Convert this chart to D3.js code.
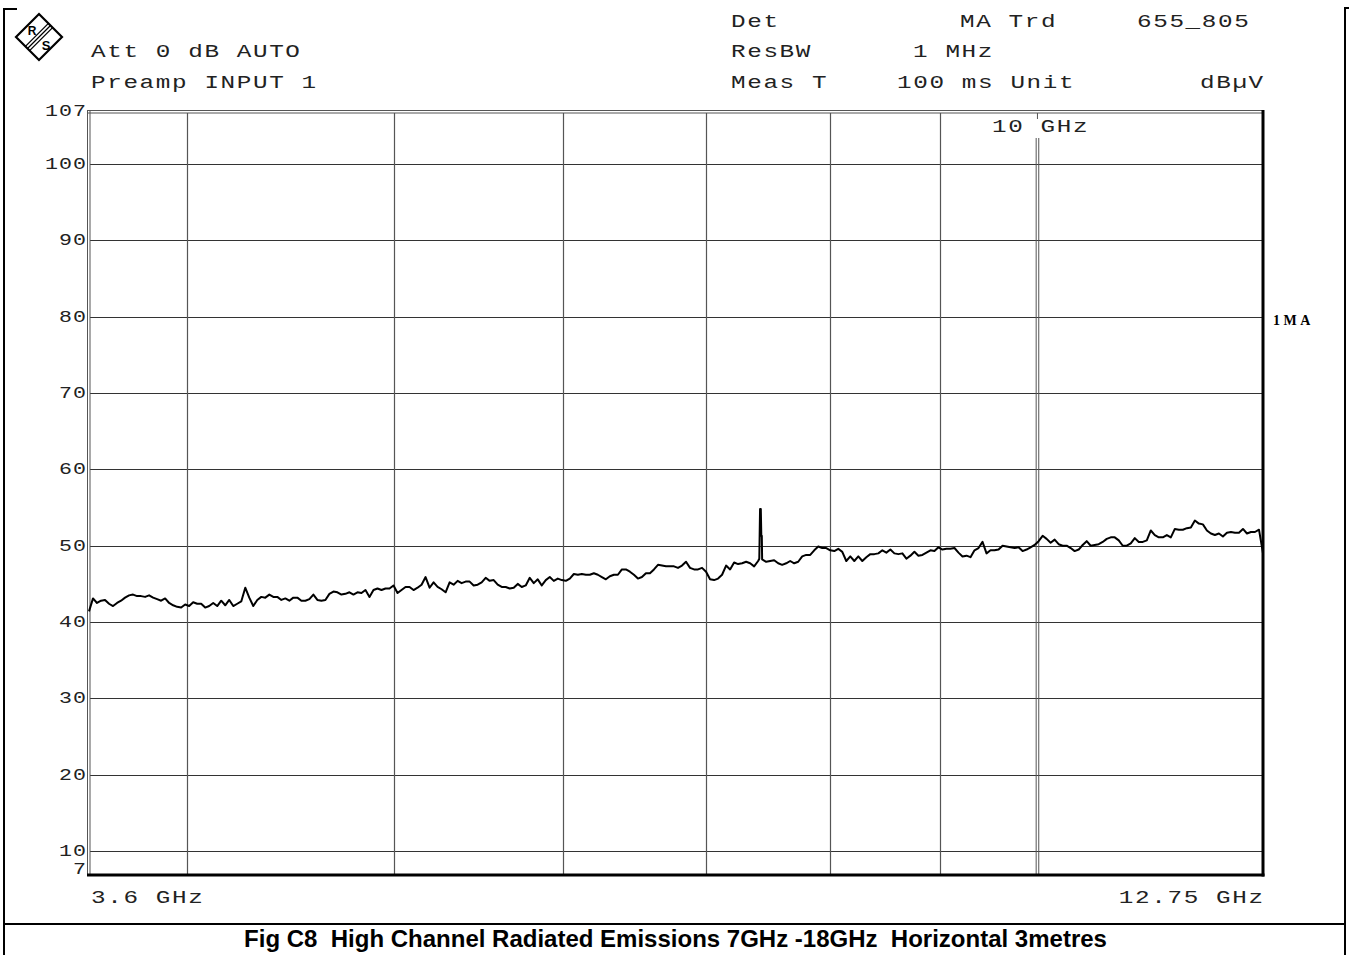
<!DOCTYPE html>
<html><head><meta charset="utf-8">
<script src="https://cdn.jsdelivr.net/npm/d3@7"></script>
<style>
html,body{margin:0;padding:0;background:#fff;}
svg{display:block;}
.mono{font-family:"Liberation Mono","Courier New",monospace;fill:#222;white-space:pre;}
</style></head>
<body>
<svg id="chart" width="1349" height="955"></svg>
<script>
// ---------- data ----------
const startGHz = 3.6, stopGHz = 12.75;
const yMin = 7, yMax = 107;
const yTickValues = [107, 100, 90, 80, 70, 60, 50, 40, 30, 20, 10, 7];
const hGridValues = [100, 90, 80, 70, 60, 50, 40, 30, 20, 10];
const vGridGHz = [4, 5, 6, 7, 8, 9];
const markerGHz = 10;
const markerLabel = "10 GHz";
const xStartLabel = "3.6 GHz", xStopLabel = "12.75 GHz";
const headerLeft = [["Att 0 dB AUTO", 91, 57], ["Preamp INPUT 1", 91, 88]];
const headerRight = [["Det", 731, 27], ["MA Trd", 960, 27], ["655_805", 1137, 27],
  ["ResBW", 731, 57], ["1 MHz", 913, 57],
  ["Meas T", 731, 88], ["100 ms Unit", 897, 88], ["dB\u00B5V", 1200, 88]];
const traceTag = "1MA";
const caption = "Fig C8  High Channel Radiated Emissions 7GHz -18GHz  Horizontal 3metres";

// trace levels (dBµV), sweep points log-spaced from start to stop
const traceLevels = [
41.4,43.1,42.5,42.8,42.9,42.4,42.1,42.5,42.8,43.2,
43.5,43.6,43.4,43.4,43.3,43.5,43.2,43.0,42.8,43.1,
42.5,42.2,42.0,41.9,42.3,42.1,42.6,42.4,42.4,41.9,
42.1,42.5,42.1,42.8,42.2,42.9,42.1,42.4,42.7,44.5,
43.2,42.1,42.9,43.3,43.2,43.6,43.3,43.3,42.9,43.1,
42.8,43.2,43.2,42.8,42.8,43.0,43.6,42.9,42.8,42.9,
43.7,44.0,43.9,43.6,43.7,43.9,43.6,43.9,43.8,44.2,
43.3,44.2,44.4,44.2,44.4,44.4,44.8,43.8,44.2,44.6,
44.6,44.2,44.5,44.9,45.9,44.5,45.2,44.6,44.3,43.9,
45.2,44.9,45.4,45.1,45.3,45.3,44.8,44.9,45.2,45.8,
45.4,45.5,44.9,44.6,44.6,44.4,44.5,45.0,44.6,44.8,
45.8,45.1,45.6,44.8,45.5,45.9,45.4,45.7,45.5,45.4,
45.7,46.3,46.2,46.3,46.2,46.2,46.4,46.2,45.9,45.6,
46.0,46.2,46.2,46.9,46.9,46.6,46.2,45.7,45.9,46.4,
46.4,46.9,47.5,47.4,47.3,47.3,47.3,47.1,47.4,47.9,
47.1,46.9,46.9,47.1,46.6,45.6,45.5,45.7,46.2,47.4,
46.9,47.8,47.6,47.7,47.9,47.7,47.3,48.0,48.2,47.9,
48.0,48.1,47.7,47.5,47.7,48.0,47.7,47.9,48.6,48.8,
48.8,49.4,49.9,49.7,49.7,49.4,49.3,49.6,49.2,48.0,
48.6,48.0,48.6,48.0,48.5,48.9,48.9,49.0,49.4,49.1,
49.5,49.0,48.9,49.0,48.3,48.7,49.2,48.7,48.8,49.1,
49.4,49.3,49.8,49.5,49.6,49.6,49.7,49.1,48.6,48.7,
48.5,49.4,49.7,50.5,49.0,49.4,49.4,49.5,50.0,49.9,
49.8,49.7,49.8,49.3,49.5,49.8,50.1,50.6,51.3,50.9,
50.4,50.8,50.2,50.0,50.0,49.7,49.3,49.5,50.1,50.6,
50.0,50.1,50.2,50.5,50.9,51.1,51.1,50.7,50.0,50.0,
50.3,51.0,50.5,50.5,50.7,52.0,51.4,51.1,51.1,51.4,
51.1,52.2,52.1,52.1,52.3,52.4,53.3,52.9,52.8,52.0,
51.6,51.4,51.6,51.2,51.7,51.8,51.7,51.7,52.2,51.6,
51.8,51.8,52.1,49.0];
// narrow spike near 7.42 GHz
const spikeGHz = [7.411, 7.417, 7.423, 7.427, 7.431];
const spikeLevels = [48.3, 54.8, 54.8, 51.3, 51.3];

// ---------- layout ----------
const plot = {left: 89, right: 1263, top: 110.6, bottom: 874};
const svg = d3.select("#chart");
const x = d3.scaleLog().domain([startGHz, stopGHz]).range([plot.left, plot.right]);
const y = d3.scaleLinear().domain([yMin, yMax]).range([plot.bottom, plot.top]);

// wide analyzer-style text: stretched mono glyphs
const SX = 1.35, HDR = 18, HLS = 1.2;
function wideText(t, tx, ty, anchor, size, ls) {
  return svg.append("text").attr("class", "mono")
    .attr("transform", `translate(${tx},${ty}) scale(${SX},1)`)
    .attr("text-anchor", anchor || "start")
    .attr("font-size", size || HDR).attr("letter-spacing", ls == null ? HLS : ls).text(t);
}

// outer page frame
const frame = svg.append("g").attr("stroke", "#000").attr("stroke-width", 2);
frame.append("line").attr("x1", 4).attr("x2", 4).attr("y1", 8).attr("y2", 955);
frame.append("line").attr("x1", 3).attr("x2", 17).attr("y1", 9).attr("y2", 9);
frame.append("line").attr("x1", 1345).attr("x2", 1345).attr("y1", 7).attr("y2", 955);
frame.append("line").attr("x1", 1344).attr("x2", 1349).attr("y1", 8).attr("y2", 8);
frame.append("line").attr("x1", 4).attr("x2", 1345).attr("y1", 924).attr("y2", 924);

// R&S logo
const logo = svg.append("g").attr("transform", "translate(39,37)");
logo.append("path").attr("d", "M0,-23 L23,0 L0,23 L-23,0 Z").attr("fill", "#fff").attr("stroke", "#000").attr("stroke-width", 2.2);
[-3, 0, 3].forEach(o => {
  logo.append("line").attr("x1", -11.5 + o * 0.7).attr("y1", 11.5 + o * 0.7).attr("x2", 11.5 + o * 0.7).attr("y2", -11.5 + o * 0.7)
    .attr("stroke", "#000").attr("stroke-width", 1.3);
});
logo.append("text").attr("x", -7).attr("y", -2).attr("text-anchor", "middle").attr("font-family", "Liberation Sans, Arial")
  .attr("font-size", 12).attr("font-weight", "bold").text("R");
logo.append("text").attr("x", 7).attr("y", 13).attr("text-anchor", "middle").attr("font-family", "Liberation Sans, Arial")
  .attr("font-size", 13).attr("font-weight", "bold").text("S");

// header texts
headerLeft.concat(headerRight).forEach(([t, tx, ty]) => wideText(t, tx, ty));

// grid
const grid = svg.append("g");
grid.selectAll("line.h").data(hGridValues).join("line").attr("class", "h")
  .attr("x1", plot.left + 1).attr("x2", plot.right).attr("y1", d => Math.round(y(d)) + 0.5).attr("y2", d => Math.round(y(d)) + 0.5)
  .attr("stroke", "#333").attr("stroke-width", 1);
grid.selectAll("line.v").data(vGridGHz).join("line").attr("class", "v")
  .attr("x1", d => Math.round(x(d)) + 0.5).attr("x2", d => Math.round(x(d)) + 0.5).attr("y1", 113).attr("y2", plot.bottom)
  .attr("stroke", "#555").attr("stroke-width", 1.2);
// 10 GHz marker
const mx = x(markerGHz);
[-1.3, 1.3].forEach(o => grid.append("line").attr("x1", mx + o).attr("x2", mx + o).attr("y1", 138).attr("y2", plot.bottom)
  .attr("stroke", "#555").attr("stroke-width", 1));
grid.append("line").attr("x1", mx).attr("x2", mx).attr("y1", 113).attr("y2", 119).attr("stroke", "#555").attr("stroke-width", 1);
wideText(markerLabel, 992, 132);

// plot frame
const pf = svg.append("g");
[87.5, 90].forEach(px => pf.append("line").attr("x1", px).attr("x2", px).attr("y1", 110).attr("y2", 875).attr("stroke", "#555").attr("stroke-width", 1));
[110.5, 113].forEach(py => pf.append("line").attr("x1", 87.5).attr("x2", plot.right).attr("y1", py).attr("y2", py).attr("stroke", "#555").attr("stroke-width", 1));
pf.append("line").attr("x1", plot.right).attr("x2", plot.right).attr("y1", 110).attr("y2", 876.5).attr("stroke", "#000").attr("stroke-width", 3);
pf.append("line").attr("x1", 87).attr("x2", plot.right + 1.5).attr("y1", 875).attr("y2", 875).attr("stroke", "#000").attr("stroke-width", 3);

// y tick labels
const ySize = 16, yLS = 0.8;
yTickValues.forEach(d => {
  wideText(String(d), 86 + yLS * SX, d === yMin ? plot.bottom : y(d) + 5, "end", ySize, yLS);
});

// x labels
wideText(xStartLabel, 91, 903);
wideText(xStopLabel, plot.right + HLS * SX, 903, "end");

// trace
const N = traceLevels.length;
const sweep = d3.scaleLinear().domain([0, N - 1]).range([Math.log10(startGHz), Math.log10(stopGHz)]);
let pts = traceLevels.map((v, i) => ({f: Math.pow(10, sweep(i)), v}));
pts = pts.concat(spikeGHz.map((f, i) => ({f, v: spikeLevels[i]}))).sort((a, b) => a.f - b.f);
const line = d3.line().x(d => x(d.f)).y(d => y(d.v));
svg.append("path").datum(pts).attr("d", line).attr("fill", "none").attr("stroke", "#000").attr("stroke-width", 2).attr("stroke-linejoin", "round");

// trace tag
svg.append("text").attr("x", 1273).attr("y", 325).attr("font-family", "Liberation Serif, Times New Roman, serif")
  .attr("font-weight", "bold").attr("font-size", 14).attr("letter-spacing", 3.5).text(traceTag);

// caption
svg.append("text").attr("x", 675.5).attr("y", 947).attr("text-anchor", "middle")
  .attr("font-family", "Liberation Sans, Arial, sans-serif").attr("font-weight", "bold").attr("font-size", 24)
  .style("white-space", "pre").text(caption);
</script>
</body></html>
